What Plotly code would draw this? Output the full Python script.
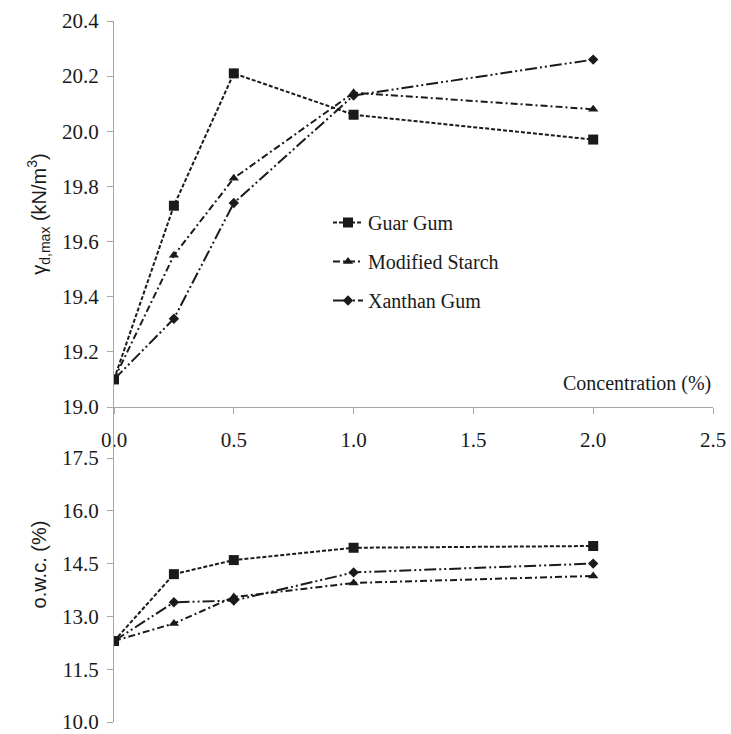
import plotly.graph_objects as go

# Polymer concentration (%)
conc = [0.0, 0.25, 0.5, 1.0, 2.0]

# Maximum dry unit weight (kN/m3)
gamma_guar = [19.10, 19.73, 20.21, 20.06, 19.97]
gamma_starch = [19.10, 19.55, 19.83, 20.14, 20.08]
gamma_xanthan = [19.10, 19.32, 19.74, 20.13, 20.26]

# Optimum water content (%)
owc_guar = [12.3, 14.2, 14.6, 14.95, 15.0]
owc_starch = [12.3, 12.8, 13.55, 13.95, 14.15]
owc_xanthan = [12.3, 13.4, 13.45, 14.25, 14.5]

names = ["Guar Gum", "Modified Starch", "Xanthan Gum"]
x_ticks = [0.0, 0.5, 1.0, 1.5, 2.0, 2.5]
gamma_ticks = [19.0, 19.2, 19.4, 19.6, 19.8, 20.0, 20.2, 20.4]
owc_ticks = [10.0, 11.5, 13.0, 14.5, 16.0, 17.5]

styles = [
    dict(dash="4px,2px", symbol="square", size=10),
    dict(dash="7px,3px,2px,3px", symbol="triangle-up", size=9),
    dict(dash="12px,3px,2px,3px,2px,3px", symbol="diamond", size=8),
]

INK = "#1a1a1a"
AXIS = "#a6a6a6"
SERIF = "Liberation Serif"
SANS = "Liberation Sans"

fig = go.Figure()

for name, ys, st in zip(names, [gamma_guar, gamma_starch, gamma_xanthan], styles):
    fig.add_trace(go.Scatter(
        x=conc, y=ys, name=name, mode="lines+markers",
        line=dict(color=INK, width=2, dash=st["dash"]),
        marker=dict(symbol=st["symbol"], size=st["size"], color=INK),
        xaxis="x", yaxis="y", legendgroup=name,
    ))

for name, ys, st in zip(names, [owc_guar, owc_starch, owc_xanthan], styles):
    fig.add_trace(go.Scatter(
        x=conc, y=ys, name=name, mode="lines+markers",
        line=dict(color=INK, width=2, dash=st["dash"]),
        marker=dict(symbol=st["symbol"], size=st["size"], color=INK),
        xaxis="x", yaxis="y2", legendgroup=name, showlegend=False,
    ))

W, H = 731, 734
ml, mr, mt, mb = 114, 18, 21, 12
plot_h = H - mt - mb
split_px = 407  # pixel row of the shared x axis
split = (H - mb - split_px) / plot_h
owc_px_per_unit = (H - mb - 458) / 7.5
owc_top = 10.0 + (H - mb - split_px) / owc_px_per_unit

fig.update_layout(
    width=W, height=H,
    margin=dict(l=ml, r=mr, t=mt, b=mb, autoexpand=False),
    paper_bgcolor="white", plot_bgcolor="white",
    font=dict(family=SERIF, size=20, color=INK),
    legend=dict(
        x=(328 - ml) / (W - ml - mr), y=1 - (203 - mt) / plot_h,
        xanchor="left", yanchor="top", bgcolor="rgba(0,0,0,0)",
        font=dict(family=SERIF, size=20, color=INK),
        tracegroupgap=10, traceorder="grouped",
    ),
    annotations=[dict(
        text="Concentration (%)", x=2.5, y=19.0, xref="x", yref="y",
        xanchor="right", yanchor="bottom", yshift=10, showarrow=False,
        font=dict(family=SERIF, size=20, color=INK),
    )],
)

line_style = dict(showgrid=False, zeroline=False, showline=True, linecolor=AXIS,
                  linewidth=1, ticks="outside", ticklen=6, tickcolor=AXIS,
                  automargin=False, ticklabeloverflow="allow")

fig.update_xaxes(
    range=[0, 2.5], tickvals=x_ticks, ticktext=[f"{v:.1f}" for v in x_ticks],
    anchor="y", ticklabelstandoff=8, **line_style,
)
fig.update_layout(
    yaxis=dict(domain=[split, 1], range=[19.0, 20.4], tickvals=gamma_ticks,
               ticktext=[f"{v:.1f}" for v in gamma_ticks], anchor="x",
               ticklabelstandoff=4, **line_style,
               title=dict(text="γ<sub>d,max</sub> (kN/m<sup>3</sup>)",
                          font=dict(family=SANS, size=20, color=INK), standoff=10)),
    yaxis2=dict(domain=[0, split], range=[10.0, owc_top], tickvals=owc_ticks,
                ticktext=[f"{v:.1f}" for v in owc_ticks], anchor="x",
                ticklabelstandoff=4, **line_style,
                title=dict(text="o.w.c. (%)",
                           font=dict(family=SANS, size=20, color=INK), standoff=10)),
)
for ax in (fig.layout.xaxis, fig.layout.yaxis, fig.layout.yaxis2):
    ax.tickfont = dict(family=SERIF, size=21, color=INK)

fig.write_html("out.html")
